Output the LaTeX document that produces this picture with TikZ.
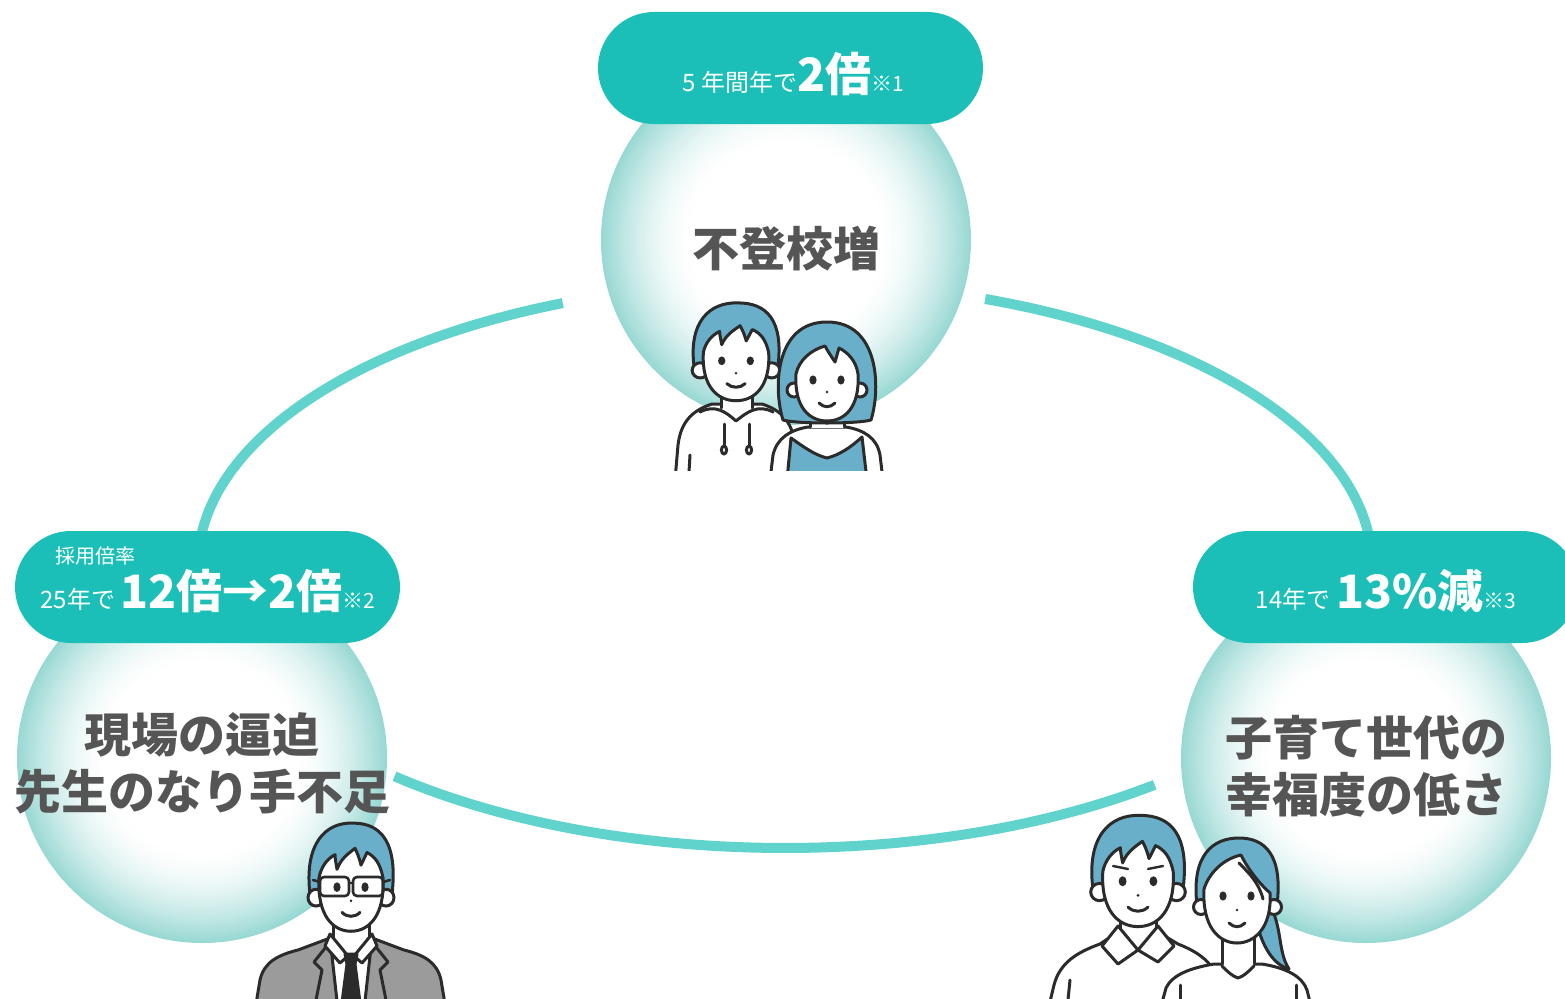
\documentclass[tikz,border=0pt]{standalone}
\usepackage{fontspec}
\newfontfamily\jp{Noto Sans CJK JP}
\usetikzlibrary{calc}
\definecolor{pillc}{HTML}{1BBFB7}
\definecolor{ringc}{HTML}{5FD3CC}
\definecolor{bubc}{HTML}{98D8D3}
\definecolor{labc}{HTML}{555555}
\definecolor{inkc}{HTML}{2B2B2B}
\definecolor{hairc}{HTML}{6AAFCA}
\definecolor{suitc}{HTML}{9B9B9B}
\newcommand\pillsmall{\fontsize{24}{24}\selectfont}
\newcommand\pillbig{\fontsize{46}{46}\selectfont}
\newcommand\pillnote{\fontsize{21}{21}\selectfont}

\begin{document}
\begin{tikzpicture}[x=1pt,y=-1pt,
  ring/.style={draw=ringc, line width=10pt},
  pill/.style={fill=pillc, rounded corners=56pt, minimum width=385pt, minimum height=112pt, inner sep=0pt},
  label/.style={font=\jp\bfseries\fontsize{47}{57}\selectfont, text=labc, align=center, inner sep=0pt},
  ptext/.style={text=white, inner sep=0pt},
  ink/.style={draw=inkc, line width=3pt, line join=round, line cap=round},
  hairf/.style={ink, fill=hairc},
  skin/.style={ink, fill=white},
  malehead/.pic={
    \filldraw[hairf] (-41,10) .. controls (-47,-38) and (-26,-59) .. (2,-58) .. controls (30,-58) and (47,-40) .. (41,10) -- cycle;
    \filldraw[skin] (-35,13) circle[radius=8];
    \filldraw[skin] (35,13) circle[radius=8];
    \filldraw[skin] (-32,-6) .. controls (-34,30) and (-18,45) .. (0,45) .. controls (18,45) and (34,30) .. (32,-6)
      .. controls (29,-20) and (24,-26) .. (16,-30) -- (10,-18) .. controls (8,-26) and (6,-30) .. (4,-34)
      .. controls (-4,-28) and (-10,-24) .. (-14,-14) .. controls (-15,-20) and (-16,-24) .. (-16,-28)
      .. controls (-24,-24) and (-30,-16) .. cycle;
    \fill[inkc] (-14,3) ellipse[x radius=3.6, y radius=4.6];
    \fill[inkc] (14,3) ellipse[x radius=3.6, y radius=4.6];
    \fill[inkc] (0,16) circle[radius=1.4];
    \draw[ink] (-9,27) .. controls (-4,32) and (4,32) .. (9,27);
  },
  bobhead/.pic={
    \filldraw[hairf] (-44,42) .. controls (-54,10) and (-52,-56) .. (0,-56) .. controls (52,-56) and (54,10) .. (44,42) .. controls (30,46) and (-30,46) .. cycle;
    \filldraw[skin] (-33,12) circle[radius=7];
    \filldraw[skin] (33,12) circle[radius=7];
    \filldraw[skin] (-31,-4) .. controls (-33,30) and (-17,43) .. (0,43) .. controls (17,43) and (33,30) .. (31,-4)
      .. controls (29,-18) and (20,-26) .. (12,-30) -- (8,-16) .. controls (4,-22) and (0,-28) .. (-2,-32)
      .. controls (-16,-28) and (-28,-18) .. cycle;
    \fill[inkc] (-14,2) ellipse[x radius=3.6, y radius=4.6];
    \fill[inkc] (14,2) ellipse[x radius=3.6, y radius=4.6];
    \fill[inkc] (0,14) circle[radius=1.3];
    \draw[ink] (-8,25) .. controls (-3,30) and (3,30) .. (8,25);
  },
  ponyhead/.pic={
    \filldraw[hairf] (30,8) .. controls (46,30) and (40,58) .. (52,76) .. controls (36,72) and (26,52) .. (22,38) -- cycle;
    \filldraw[hairf] (-40,12) .. controls (-46,-38) and (-24,-55) .. (2,-55) .. controls (28,-55) and (46,-38) .. (40,12) -- cycle;
    \filldraw[skin] (-36,14) circle[radius=7.5];
    \filldraw[skin] (37,14) circle[radius=7.5];
    \filldraw[skin] (-33,-4) .. controls (-35,34) and (-18,50) .. (0,50) .. controls (18,50) and (35,34) .. (33,0)
      .. controls (24,-8) and (12,-22) .. (4,-38) .. controls (-14,-34) and (-28,-20) .. cycle;
    \draw[ink] (2,-30) .. controls (12,-20) and (22,-10) .. (26,6);
    \fill[inkc] (-14,3) ellipse[x radius=3.6, y radius=4.6];
    \fill[inkc] (14,3) ellipse[x radius=3.6, y radius=4.6];
    \fill[inkc] (0,17) circle[radius=1.3];
    \draw[ink] (-8,30) .. controls (-3,35) and (3,35) .. (8,30);
  },
]
\useasboundingbox (0,0) rectangle (1565,998);
\clip (0,0) rectangle (1565,998);

% ring linking the three topics
\draw[ring] plot[domain=175:247.75, samples=60] ({785+587*cos(\x)},{565+283*sin(\x)});
\draw[ring] plot[domain=289.94:365, samples=60] ({785+587*cos(\x)},{565+283*sin(\x)});
\draw[ring] plot[domain=50.96:131.7, samples=60] ({785+587*cos(\x)},{565+283*sin(\x)});

% soft bubbles
\coordinate (b1) at (786,240);
\coordinate (b2) at (202,758);
\coordinate (b3) at (1366,758);
\foreach \bc in {b1,b2,b3}{
  \foreach \k in {0,...,50}{
    \pgfmathsetmacro\tr{1-\k/100}
    \pgfmathtruncatemacro\pc{100*(max(0.001,(\tr-0.5)/0.5))^1.7}
    \fill[bubc!\pc!white] (\bc) circle[radius=185*\tr];
  }
}

% headline pills
\node[pill] (p1) at (790.5,68) {};
\node[pill] (p2) at (207.5,587) {};
\node[pill] (p3) at (1385.5,587) {};

\node[ptext, anchor=base] (t1) at (793,91) {\jp\pillsmall 5 年間年で\pillbig\bfseries 2倍\pillnote\mdseries ※1};
\node[ptext, anchor=base west] (t2a) at (55,563) {\jp\fontsize{20}{20}\selectfont 採用倍率};
\node[ptext, anchor=base] (t2) at (208,608) {\jp\pillsmall 25年で \pillbig\bfseries 12倍→2倍\pillnote\mdseries ※2};
\node[ptext, anchor=base] (t3) at (1386,608) {\jp\pillsmall 14年で \pillbig\bfseries 13\%減\pillnote\mdseries ※3};

% topic labels (base anchor sits on the last line)
\node[label, anchor=base] (m1) at (786,266) {不登校増};
\node[label, anchor=base] (m2) at (202,809) {現場の逼迫\\先生のなり手不足};
\node[label, anchor=base] (m3) at (1366,812) {子育て世代の\\幸福度の低さ};

% students
\begin{scope}
  \clip (640,280) rectangle (900,470);
  \filldraw[skin] (675,480) -- (678,445) .. controls (681,420) and (694,410) .. (712,404) -- (762,404) .. controls (780,410) and (792,420) .. (795,445) -- (797,480) -- cycle;
  \fill[white] (721,385) rectangle (752,412);
  \draw[ink] (721,385) -- (721,408);
  \draw[ink] (752,385) -- (752,408);
  \draw[ink] (700,412) .. controls (715,404) and (726,412) .. (736,421) .. controls (747,412) and (758,404) .. (773,412);
  \draw[ink] (724,424) -- (724,445);
  \draw[ink] (749,424) -- (749,445);
  \filldraw[skin] (724,450) ellipse[x radius=2.6, y radius=4];
  \filldraw[skin] (749,450) ellipse[x radius=2.6, y radius=4];
  \draw[ink] (690,455) -- (689,472);
  \pic[xscale=1.02, yscale=0.95] at (736,358) {malehead};
  \filldraw[skin] (770,480) -- (773,455) .. controls (777,438) and (790,430) .. (808,427) -- (846,427) .. controls (864,430) and (877,438) .. (880,455) -- (883,480) -- cycle;
  \filldraw[ink, fill=hairc] (787,480) -- (791,438) .. controls (805,448) and (815,455) .. (827,458) .. controls (839,455) and (850,448) .. (862,437) -- (867,480) -- cycle;
  \fill[white] (810,405) rectangle (844,428);
  \draw[ink] (810,405) -- (810,427);
  \draw[ink] (844,405) -- (844,427);
  \pic at (827,378) {bobhead};
\end{scope}

% teacher
\filldraw[ink, fill=suitc] (255,1010) -- (260,980) .. controls (264,962) and (278,955) .. (298,950) -- (330,938) -- (372,938) -- (404,950) .. controls (424,955) and (437,962) .. (441,980) -- (446,1010) -- cycle;
\filldraw[skin] (330,938) -- (372,938) -- (364,1010) -- (338,1010) -- cycle;
\draw[ink] (330,942) -- (314,962) -- (322,970) -- (316,1000);
\draw[ink] (372,942) -- (388,962) -- (380,970) -- (386,1000);
\fill[white] (333,912) rectangle (369,940);
\draw[ink] (333,912) -- (333,938);
\draw[ink] (369,912) -- (369,938);
\filldraw[skin] (330,934) -- (348,956) -- (340,963) -- (325,946) -- cycle;
\filldraw[skin] (372,934) -- (354,956) -- (362,963) -- (377,946) -- cycle;
\filldraw[ink, fill=inkc] (345,954) -- (357,954) -- (355,964) -- (347,964) -- cycle;
\filldraw[ink, fill=inkc] (347,964) -- (355,964) -- (361,1010) -- (341,1010) -- cycle;
\pic[xscale=1.0, yscale=1.05] at (351,884) {malehead};
\begin{scope}[ink, line width=2.6pt]
  \draw[rounded corners=4pt] (320,877) rectangle (349,896);
  \draw[rounded corners=4pt] (353,877) rectangle (383,896);
  \draw (349,883) -- (353,883);
  \draw (320,882) -- (313,880);
  \draw (383,882) -- (390,880);
\end{scope}

% parents
\filldraw[skin] (1048,1010) -- (1054,985) .. controls (1060,962) and (1078,952) .. (1100,944) -- (1118,932) -- (1158,932) -- (1178,944) .. controls (1198,952) and (1214,962) .. (1220,985) -- (1224,1010) -- cycle;
\fill[white] (1120,905) rectangle (1156,934);
\draw[ink] (1120,905) -- (1120,930);
\draw[ink] (1156,905) -- (1156,930);
\filldraw[skin] (1118,926) -- (1138,950) -- (1118,964) -- (1102,946) -- cycle;
\filldraw[skin] (1158,926) -- (1138,950) -- (1158,962) -- (1174,946) -- cycle;
\draw[ink] (1070,980) -- (1068,1000);
\pic[xscale=1.1, yscale=1.08] at (1138,878) {malehead};
\draw[ink, line width=2.4pt] (1113,866) -- (1128,869);
\draw[ink, line width=2.4pt] (1148,869) -- (1163,866);
\filldraw[skin] (1160,1010) -- (1166,988) .. controls (1172,975) and (1190,968) .. (1214,964) -- (1262,964) .. controls (1286,968) and (1302,976) .. (1307,990) -- (1312,1010) -- cycle;
\fill[white] (1222,930) rectangle (1254,966);
\draw[ink] (1222,930) -- (1222,964);
\draw[ink] (1254,930) -- (1254,964);
\draw[ink] (1222,966) .. controls (1228,972) and (1232,976) .. (1238,978) .. controls (1244,976) and (1248,972) .. (1254,966);
\draw[ink] (1180,985) -- (1180,1000);
\draw[ink] (1296,985) -- (1296,1000);
\pic at (1237,893) {ponyhead};
\end{tikzpicture}
\end{document}
